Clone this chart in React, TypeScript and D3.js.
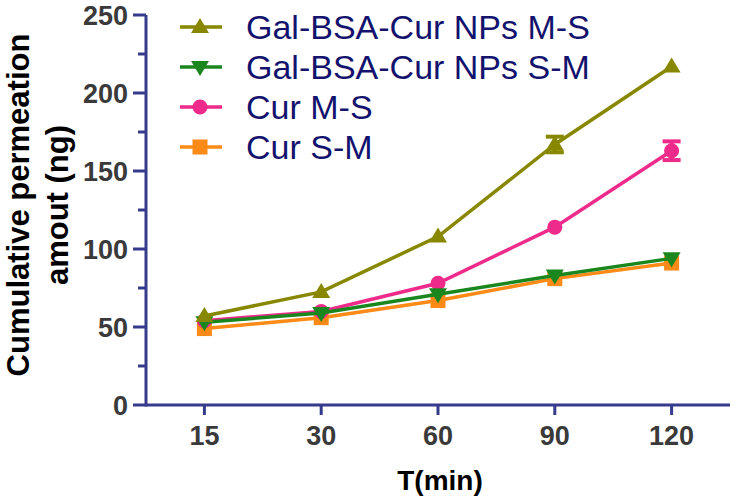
import React from "react";
import * as d3 from "d3";

const categories = ["15", "30", "60", "90", "120"];
const seriesNames = ["Gal-BSA-Cur NPs M-S", "Gal-BSA-Cur NPs S-M", "Cur M-S", "Cur S-M"];
const galMS = [57, 72.5, 108, 167, 217];
const galMSErr = [1, 1, 1, 5, 1];
const galSM = [53, 59, 71, 83, 94];
const galSMErr = [1, 1, 1, 1, 1];
const curMS = [54, 60, 78, 114, 163];
const curMSErr = [1, 1, 1, 1, 6];
const curSM = [49, 56, 67, 81, 91];
const curSMErr = [1, 1, 1, 1, 1];
const yTicks = [0, 50, 100, 150, 200, 250];
const yMinorTicks = [25, 75, 125, 175, 225];

const W = 735, H = 502;
const axisColor = "#373b8c";
const tickTextColor = "#3a3a3a";
const font = "Arial, 'Liberation Sans', sans-serif";

type Series = { name: string; values: number[]; err: number[]; color: string; marker: string };

const series: Series[] = [
  { name: seriesNames[0], values: galMS, err: galMSErr, color: "#878700", marker: "up" },
  { name: seriesNames[1], values: galSM, err: galSMErr, color: "#1a861e", marker: "down" },
  { name: seriesNames[2], values: curMS, err: curMSErr, color: "#ee2a8a", marker: "circle" },
  { name: seriesNames[3], values: curSM, err: curSMErr, color: "#fb8a16", marker: "square" },
];

function Marker({ kind, x, y, color }: { kind: string; x: number; y: number; color: string }) {
  if (kind === "circle") return <circle cx={x} cy={y} r={7.5} fill={color} />;
  if (kind === "square") return <rect x={x - 7.5} y={y - 7.5} width={15} height={15} fill={color} />;
  const s = 9;
  const h = 15;
  if (kind === "up")
    return <path d={`M${x},${y - h * 0.6}L${x + s},${y + h * 0.4}L${x - s},${y + h * 0.4}Z`} fill={color} />;
  return <path d={`M${x},${y + h * 0.6}L${x + s},${y - h * 0.4}L${x - s},${y - h * 0.4}Z`} fill={color} />;
}

export default function App() {
  const x = d3.scalePoint<string>().domain(categories).range([146, 730]).padding(0.5);
  const y = d3.scaleLinear().domain([0, 250]).range([405, 15]);
  const line = d3
    .line<number>()
    .x((_, i) => x(categories[i]) as number)
    .y((d) => y(d));

  const drawOrder = [3, 2, 1, 0];
  const legendY = [27, 67, 107, 147];

  return (
    <svg width={W} height={H} style={{ position: "absolute", left: 0, top: 0, background: "#fff" }}>
      {/* axes */}
      <line x1={146} x2={146} y1={y(250)} y2={y(0) + 1.5} stroke={axisColor} strokeWidth={3} />
      <line x1={146} x2={730} y1={y(0)} y2={y(0)} stroke={axisColor} strokeWidth={3} />
      {yTicks.map((t) => (
        <g key={"yt" + t}>
          <line x1={133} x2={146} y1={y(t)} y2={y(t)} stroke={axisColor} strokeWidth={3} />
          <text x={128} y={y(t)} dy="0.36em" textAnchor="end" fontFamily={font} fontWeight="bold" fontSize={27} fill={tickTextColor}>
            {t}
          </text>
        </g>
      ))}
      {yMinorTicks.map((t) => (
        <line key={"ym" + t} x1={138} x2={146} y1={y(t)} y2={y(t)} stroke={axisColor} strokeWidth={3} />
      ))}
      {categories.map((c) => (
        <g key={"xt" + c}>
          <line x1={x(c)} x2={x(c)} y1={y(0)} y2={y(0) + 10} stroke={axisColor} strokeWidth={3} />
          <text x={x(c)} y={445} textAnchor="middle" fontFamily={font} fontWeight="bold" fontSize={27} fill={tickTextColor}>
            {c}
          </text>
        </g>
      ))}
      <text x={440} y={490} textAnchor="middle" fontFamily={font} fontWeight="bold" fontSize={28} fill="#000">
        T(min)
      </text>
      <text transform="translate(29,205) rotate(-90)" textAnchor="middle" fontFamily={font} fontWeight="bold" fontSize={31} fill="#000">
        Cumulative permeation
      </text>
      <text transform="translate(68,205) rotate(-90)" textAnchor="middle" fontFamily={font} fontWeight="bold" fontSize={31} fill="#000">
        amout (ng)
      </text>

      {/* series */}
      {drawOrder.map((si) => {
        const s = series[si];
        return (
          <g key={s.name}>
            <path d={line(s.values) || ""} fill="none" stroke={s.color} strokeWidth={3.5} />
            {s.values.map((v, i) => {
              const cx = x(categories[i]) as number;
              const e = s.err[i];
              return (
                <g key={i}>
                  {e > 2 && (
                    <g stroke={s.color} strokeWidth={4}>
                      <line x1={cx} x2={cx} y1={y(v + e)} y2={y(v - e)} />
                      <line x1={cx - 9} x2={cx + 9} y1={y(v + e)} y2={y(v + e)} />
                      <line x1={cx - 9} x2={cx + 9} y1={y(v - e)} y2={y(v - e)} />
                    </g>
                  )}
                  <Marker kind={s.marker} x={cx} y={y(v)} color={s.color} />
                </g>
              );
            })}
          </g>
        );
      })}

      {/* legend */}
      {series.map((s, i) => (
        <g key={"lg" + i}>
          <line x1={180} x2={222} y1={legendY[i]} y2={legendY[i]} stroke={s.color} strokeWidth={3.5} />
          <Marker kind={s.marker} x={200} y={legendY[i]} color={s.color} />
          <text x={246} y={legendY[i]} dy="0.36em" fontFamily={font} fontSize={34} fill="#13136e">
            {s.name}
          </text>
        </g>
      ))}
    </svg>
  );
}
